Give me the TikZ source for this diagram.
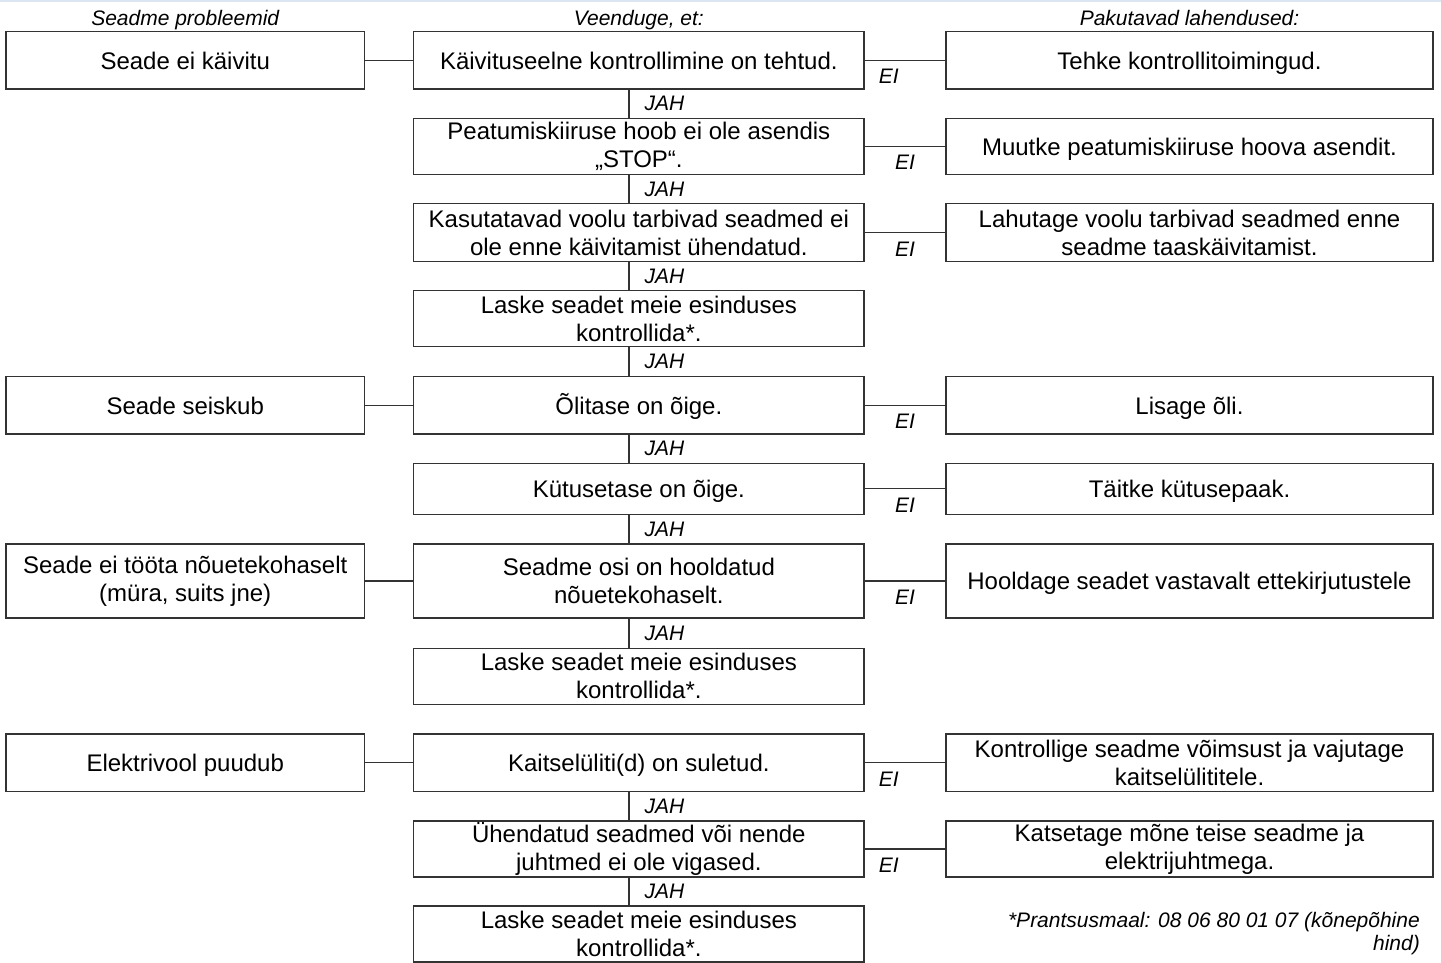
\documentclass[tikz,border=0pt]{standalone}
\usepackage{fontspec}
\setmainfont{Liberation Sans}
\definecolor{topline}{HTML}{DCE6F2}
\begin{document}
\begin{tikzpicture}[x=1pt,y=-1pt,
  box/.style={draw=black!80, line width=1.3pt, inner sep=0pt, align=center, font=\fontsize{24}{28}\selectfont},
  one/.style={text height=17.5pt, text depth=0pt},
  lbox/.style={box, minimum width=358.5pt},
  mbox/.style={box, minimum width=450.3pt},
  rbox/.style={box, minimum width=487pt},
  lab/.style={font=\fontsize{21}{23}\itshape\selectfont, inner sep=0pt},
  conn/.style={draw=black!80, line width=1.3pt}]
\useasboundingbox (0,0) rectangle (1441,963);
\fill[white] (0,0) rectangle (1441,963);
\fill[topline] (0,0) rectangle (1441,2.5);

% headers
\node[lab, anchor=base] (h1) at (185.25,25.5) {Seadme probleemid};
\node[lab, anchor=base] (h2) at (638.85,25.5) {Veenduge, et:};
\node[lab, anchor=base] (h3) at (1189.5,25.5) {Pakutavad lahendused:};

% row 1
\node[lbox, one, minimum height=57.3pt] (l1) at (185.25,60.35) {Seade ei käivitu};
\node[mbox, one, minimum height=57.3pt] (m1) at (638.85,60.35) {Käivituseelne kontrollimine on tehtud.};
\node[rbox, one, minimum height=57.3pt] (r1) at (1189.5,60.35) {Tehke kontrollitoimingud.};
% row 2
\node[mbox, minimum height=56pt] (m2) at (638.85,146.4) {Peatumiskiiruse hoob ei ole asendis\\„STOP“.};
\node[rbox, one, minimum height=56pt] (r2) at (1189.5,146.4) {Muutke peatumiskiiruse hoova asendit.};
% row 3
\node[mbox, minimum height=57.6pt] (m3) at (638.85,232.5) {Kasutatavad voolu tarbivad seadmed ei\\ole enne käivitamist ühendatud.};
\node[rbox, minimum height=57.6pt] (r3) at (1189.5,232.5) {Lahutage voolu tarbivad seadmed enne\\seadme taaskäivitamist.};
% row 4
\node[mbox, minimum height=56pt] (m4) at (638.85,318.7) {Laske seadet meie esinduses\\kontrollida*.};
% row 5
\node[lbox, one, minimum height=57.3pt] (l5) at (185.25,405.3) {Seade seiskub};
\node[mbox, one, minimum height=57.3pt] (m5) at (638.85,405.3) {Õlitase on õige.};
\node[rbox, one, minimum height=57.3pt] (r5) at (1189.5,405.3) {Lisage õli.};
% row 6
\node[mbox, one, minimum height=51pt] (m6) at (638.85,488.8) {Kütusetase on õige.};
\node[rbox, one, minimum height=51pt] (r6) at (1189.5,488.8) {Täitke kütusepaak.};
% row 7
\node[lbox, minimum height=74pt] (l7) at (185.25,581) {Seade ei tööta nõuetekohaselt\\(müra, suits jne)};
\node[mbox, minimum height=74pt] (m7) at (638.85,581) {Seadme osi on hooldatud\\nõuetekohaselt.};
\node[rbox, one, minimum height=74pt] (r7) at (1189.5,581) {Hooldage seadet vastavalt ettekirjutustele};
% row 8
\node[mbox, minimum height=56pt] (m8) at (638.85,676.3) {Laske seadet meie esinduses\\kontrollida*.};
% row 9
\node[lbox, one, minimum height=57.7pt] (l9) at (185.25,762.8) {Elektrivool puudub};
\node[mbox, one, minimum height=57.7pt] (m9) at (638.85,762.8) {Kaitselüliti(d) on suletud.};
\node[rbox, minimum height=57.7pt] (r9) at (1189.5,762.8) {Kontrollige seadme võimsust ja vajutage\\kaitselülititele.};
% row 10
\node[mbox, minimum height=56pt] (m10) at (638.85,849) {Ühendatud seadmed või nende\\juhtmed ei ole vigased.};
\node[rbox, minimum height=56pt] (r10) at (1189.5,849) {Katsetage mõne teise seadme ja\\elektrijuhtmega.};
% row 11
\node[mbox, minimum height=56pt] (m11) at (638.85,934) {Laske seadet meie esinduses\\kontrollida*.};

% footnote
\node[lab, align=right, anchor=north east] (fn) at (1420,912) {*Prantsusmaal: 08 06 80 01 07 (kõnepõhine\\hind)};

% left-middle connectors
\foreach \i in {1,5,7,9} { \draw[conn] (l\i.east) -- (m\i.west); }

% EI connectors
\foreach \i/\p in {1/0.3,2/0.5,3/0.5,5/0.5,6/0.5,7/0.5,9/0.3,10/0.3} {
  \draw[conn] (m\i.east) -- (r\i.west) node[lab, pos=\p, anchor=north, yshift=-8.5pt] {EI};
}

% JAH connectors
\foreach \a/\b in {1/2,2/3,3/4,4/5,5/6,6/7,7/8,9/10,10/11} {
  \draw[conn] ([xshift=-10pt]m\a.south) -- ([xshift=-10pt]m\b.north) node[lab, midway, anchor=west, xshift=15pt] {JAH};
}
\end{tikzpicture}
\end{document}
